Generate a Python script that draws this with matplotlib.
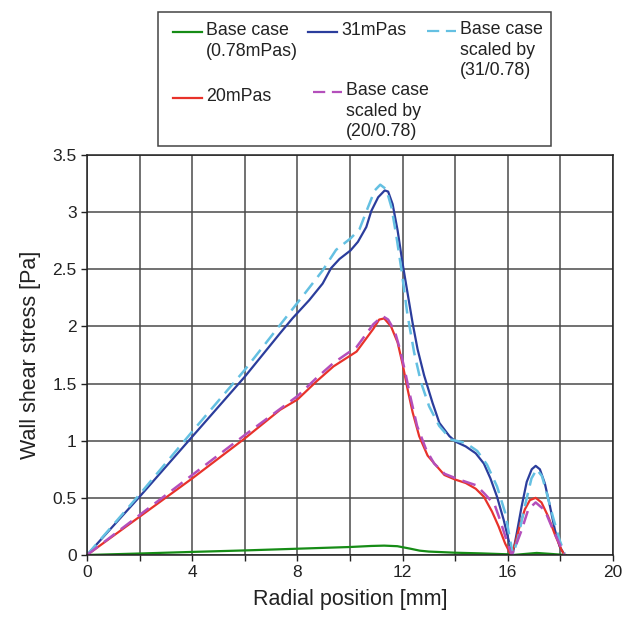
import numpy as np
import matplotlib
matplotlib.use('Agg')
import matplotlib.pyplot as plt
from matplotlib.lines import Line2D
from matplotlib.patches import Rectangle

plt.rcParams['font.family'] = ['Liberation Sans', 'DejaVu Sans']
plt.rcParams['lines.solid_joinstyle'] = 'round'
plt.rcParams['lines.dash_joinstyle'] = 'round'

# Wall shear stress along the radius, one curve per viscosity
x_base = [0, 2, 4, 6, 8, 10, 10.8, 11.3, 11.8, 12.3, 12.65, 13, 14, 15, 16, 16.2, 16.6, 17.1, 17.6, 18.2]
y_base = [0, 0.013, 0.027, 0.04, 0.055, 0.07, 0.079, 0.082, 0.077, 0.055, 0.038, 0.03, 0.02, 0.014,
          0.006, 0.0, 0.008, 0.018, 0.01, 0.0]

x_31 = [0, 2, 4, 6, 7.34, 7.81, 8.45, 8.96, 9.28, 9.6, 10.02, 10.3, 10.62, 10.81, 11.07, 11.32,
        11.45, 11.62, 11.81, 12.0, 12.19, 12.38, 12.57, 12.82, 13.14, 13.4, 13.78, 14.03, 14.4,
        14.78, 15.09, 15.34, 15.59, 15.84, 16.03, 16.18, 16.34, 16.53, 16.72, 16.91, 17.06, 17.22,
        17.41, 17.6, 17.79, 17.97, 18.16]
y_31 = [0, 0.51, 1.035, 1.56, 1.94, 2.07, 2.23, 2.375, 2.51, 2.59, 2.665, 2.74, 2.87, 3.01, 3.13, 3.19,
        3.18, 3.07, 2.84, 2.55, 2.29, 2.03, 1.80, 1.57, 1.33, 1.155, 1.04, 0.99, 0.95,
        0.89, 0.80, 0.67, 0.51, 0.31, 0.13, 0.0, 0.19, 0.43, 0.64, 0.75, 0.78, 0.75,
        0.625, 0.43, 0.22, 0.075, 0.0]

x_sc31 = [0, 2, 4, 6, 7.74, 8.32, 8.96, 9.47, 10.02, 10.36, 10.68, 10.94, 11.15, 11.38, 11.58,
          11.77, 11.96, 12.18, 12.44, 12.7, 13.01, 13.39, 13.84, 14.4, 14.84, 15.21, 15.59, 15.9,
          16.09, 16.2, 16.4, 16.65, 16.9, 17.1, 17.3, 17.47, 17.72, 17.97, 18.16]
y_sc31 = [0, 0.53, 1.08, 1.62, 2.13, 2.30, 2.49, 2.67, 2.77, 2.85, 3.04, 3.19, 3.24, 3.2, 3.04,
          2.78, 2.49, 2.11, 1.77, 1.51, 1.30, 1.13, 1.01, 0.98, 0.91, 0.79, 0.60, 0.37,
          0.13, 0.0, 0.16, 0.43, 0.67, 0.75, 0.69, 0.55, 0.33, 0.13, 0.015]

x_20 = [0, 2, 4, 6, 7.34, 8, 8.73, 9.37, 10.25, 10.89, 11.11, 11.3, 11.56, 11.81, 12.0, 12.19,
        12.38, 12.63, 12.95, 13.21, 13.59, 14.0, 14.4, 14.78, 15.09, 15.4, 15.65, 15.9, 16.12,
        16.28, 16.47, 16.65, 16.84, 17.06, 17.28, 17.53, 17.79, 18.04, 18.16]
y_20 = [0, 0.335, 0.67, 1.02, 1.27, 1.36, 1.52, 1.65, 1.78, 1.98, 2.06, 2.07, 2.0, 1.86, 1.67, 1.45,
        1.25, 1.04, 0.87, 0.80, 0.70, 0.66, 0.63, 0.58, 0.51, 0.38, 0.25, 0.10, 0.0,
        0.10, 0.27, 0.40, 0.48, 0.50, 0.46, 0.34, 0.18, 0.045, 0.0]

x_sc20 = [0, 2, 4, 6, 8, 8.73, 9.37, 10.25, 10.89, 11.24, 11.45, 11.7, 11.9, 12.1, 12.3, 12.55,
          12.9, 13.2, 13.6, 14.15, 14.8, 15.1, 15.5, 15.7, 15.95, 16.15, 16.3, 16.53, 16.78,
          17.06, 17.41, 17.72, 18.04, 18.16]
y_sc20 = [0, 0.35, 0.70, 1.05, 1.39, 1.55, 1.68, 1.82, 2.02, 2.09, 2.06, 1.96, 1.80, 1.60, 1.38, 1.13,
          0.92, 0.80, 0.71, 0.66, 0.61, 0.54, 0.44, 0.31, 0.13, 0.0, 0.08, 0.22, 0.40,
          0.46, 0.39, 0.22, 0.06, 0.0]

c_base = '#168c16'
c_31 = '#2b3d9c'
c_sc31 = '#64c0e2'
c_20 = '#e8322a'
c_sc20 = '#b44fbb'
dash = (0, (5.5, 3))

fig = plt.figure(figsize=(6.24, 6.18), dpi=100)
ax = fig.add_axes([87/624, 63/618, 526/624, 400/618])

ax.plot(x_base, y_base, color=c_base, lw=1.6)
ax.plot(x_31, y_31, color=c_31, lw=1.6)
ax.plot(x_20, y_20, color=c_20, lw=1.6)
ax.plot(x_sc31, y_sc31, color=c_sc31, lw=1.8, ls=dash)
ax.plot(x_sc20, y_sc20, color=c_sc20, lw=1.8, ls=dash)

ax.set_xlim(0, 20)
ax.set_ylim(0, 3.5)
ax.set_xticks(np.arange(0, 21, 2))
ax.set_xticklabels([str(v) if v % 4 == 0 else '' for v in range(0, 21, 2)])
ax.set_yticks(np.arange(0, 3.51, 0.5))
ax.set_yticklabels(['0', '0.5', '1', '1.5', '2', '2.5', '3', '3.5'])
ax.tick_params(direction='out', length=4, width=1, labelsize=12.5, colors='#222222')
ax.grid(color='#4a4a4a', lw=1.1)
ax.set_axisbelow(True)
for s in ax.spines.values():
    s.set_color('#222222')
    s.set_linewidth(1.1)
ax.set_xlabel('Radial position [mm]', fontsize=15.5, color='#222222', labelpad=6)
ax.set_ylabel('Wall shear stress [Pa]', fontsize=15.5, color='#222222', labelpad=8)

# legend drawn by hand so that rows line up like the boxed key
lg = fig.add_axes([0, 0, 1, 1], facecolor='none')
lg.set_xlim(0, 624)
lg.set_ylim(618, 0)
lg.axis('off')
lg.add_patch(Rectangle((158, 12), 393, 134, fill=False, ec='#444444', lw=1.1))

entries = [
    (173, 32, c_base, '-', 'Base case\n(0.78mPas)'),
    (308, 32, c_31, '-', '31mPas'),
    (427, 31, c_sc31, dash, 'Base case\nscaled by\n(31/0.78)'),
    (173, 98, c_20, '-', '20mPas'),
    (313, 92, c_sc20, dash, 'Base case\nscaled by\n(20/0.78)'),
]
for hx, hy, col, style, label in entries:
    lg.add_line(Line2D([hx, hx + 29], [hy, hy], color=col, lw=1.6, ls=style))
    lg.text(hx + 33, hy - 10, label, fontsize=12.8, color='#222222', va='top', ha='left',
            linespacing=1.28)

fig.savefig('out.png', dpi=100)
